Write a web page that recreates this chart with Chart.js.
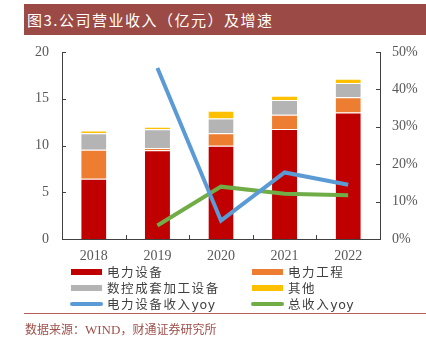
<!DOCTYPE html>
<html><head><meta charset="utf-8">
<script src="https://cdn.jsdelivr.net/npm/chart.js@4.4.0/dist/chart.umd.min.js"></script>
<style>
html,body{margin:0;padding:0;background:#fff;}
#wrap{position:relative;width:426px;height:343px;overflow:hidden;}
#title{position:absolute;left:24px;top:4px;width:402px;height:31px;background:#9B4A45;color:#fff;
 font-family:"Noto Sans CJK SC",sans-serif;font-size:15px;letter-spacing:1.5px;line-height:31px;padding-left:3px;box-sizing:border-box;}
#c{position:absolute;left:0;top:0;}
.leg{position:absolute;font-family:"Noto Sans CJK SC",sans-serif;font-size:12.5px;letter-spacing:1.6px;color:#404040;height:16px;line-height:16px;white-space:nowrap;}
.leg i{position:absolute;left:0;display:block;}
.leg span{position:absolute;left:36px;top:0;}
.yoy{font-family:"DejaVu Sans",sans-serif;letter-spacing:0.5px;}
#rule{position:absolute;left:24px;top:313px;width:402px;height:1px;background:#B5615A;}
#src{position:absolute;left:25px;top:321px;font-family:"Noto Sans CJK SC",serif;font-size:12px;color:#A0504A;line-height:16px;}
#src b{font-family:"Liberation Serif",serif;font-weight:normal;font-size:13px;}
</style></head>
<body><div id="wrap">
<div id="title">图3.公司营业收入（亿元）及增速</div>
<canvas id="c" width="426" height="343"></canvas>
<div id="legend"></div>
<div id="rule"></div>
<div id="src">数据来源：<b>WIND</b>，财通证券研究所</div>
</div>
<script>
const categories = ['2018','2019','2020','2021','2022'];
const powerEquip = [6.45, 9.48, 9.98, 11.76, 13.54];
const powerEng = [3.10, 0.25, 1.32, 1.54, 1.61];
const cncEquip = [1.75, 2.00, 1.60, 1.57, 1.54];
const others = [0.30, 0.28, 0.82, 0.46, 0.46];
const powerEquipYoy = [null, 45.7, 4.9, 17.8, 14.5];
const totalYoy = [null, 3.6, 14.0, 12.1, 11.7];
const leftTicks = [0, 5, 10, 15, 20];
const rightTicks = [0, 10, 20, 30, 40, 50];

const names = ['电力设备','电力工程','数控成套加工设备','其他','电力设备收入yoy','总收入yoy'];
const colors = ['#C00000','#ED7D31','#B4B4B4','#FFC000','#5B9BD5','#70AD47'];

const barDs = [powerEquip, powerEng, cncEquip, others].map((d,i)=>({
  type:'bar', label:names[i], data:d, backgroundColor:colors[i], borderColor:'rgba(255,255,255,0.6)',
  borderWidth:{top:1,bottom:0,left:0,right:0}, borderSkipped:false, stack:'s', yAxisID:'y',
  barPercentage:0.395, categoryPercentage:1, order:2
}));
const lineDs = [powerEquipYoy, totalYoy].map((d,i)=>({
  type:'line', label:names[4+i], data:d, borderColor:colors[4+i], backgroundColor:colors[4+i],
  borderWidth:4, pointRadius:0, tension:0, yAxisID:'y1', spanGaps:false, order:1, borderCapStyle:'butt'
}));

const inwardTicks = {
  id:'inwardTicks',
  afterDraw(chart){
    const {ctx, scales:{x,y,y1}, chartArea:a} = chart;
    ctx.save();
    ctx.strokeStyle='#404040'; ctx.lineWidth=1;
    ctx.beginPath();
    leftTicks.forEach(v=>{const p=Math.round(y.getPixelForValue(v))+0.5; if(v>0){ctx.moveTo(a.left,p);ctx.lineTo(a.left+4,p);}});
    rightTicks.forEach(v=>{const p=Math.round(y1.getPixelForValue(v))+0.5; if(v>0){ctx.moveTo(a.right,p);ctx.lineTo(a.right-4,p);}});
    for(let i=0;i<categories.length-1;i++){
      const p=Math.round((x.getPixelForValue(i)+x.getPixelForValue(i+1))/2)+0.5;
      ctx.moveTo(p,a.bottom);ctx.lineTo(p,a.bottom-4);
    }
    ctx.stroke();
    ctx.restore();
  }
};

const tickFont = {family:'"Liberation Serif", serif', size:14};
new Chart(document.getElementById('c'), {
  data:{labels:categories, datasets:[...barDs, ...lineDs]},
  options:{
    responsive:false, animation:false, devicePixelRatio:1,
    layout:{padding:{top:52, left:0, right:0, bottom:82}},
    plugins:{legend:{display:false}, tooltip:{enabled:false}},
    scales:{
      x:{stacked:true, grid:{display:true, drawOnChartArea:false, drawTicks:false},
         border:{color:'#404040', width:1},
         ticks:{font:tickFont, color:'#595959', padding:9},
         afterFit(s){s.height=22;}},
      y:{stacked:true, position:'left', min:0, max:20,
         afterBuildTicks(s){s.ticks=leftTicks.map(v=>({value:v}));},
         grid:{display:false, drawTicks:false}, border:{color:'#404040', width:1},
         ticks:{font:tickFont, color:'#595959', padding:13},
         afterFit(s){s.width=62;}},
      y1:{position:'right', min:0, max:50,
         afterBuildTicks(s){s.ticks=rightTicks.map(v=>({value:v}));},
         grid:{display:false, drawTicks:false}, border:{color:'#404040', width:1},
         ticks:{font:tickFont, color:'#595959', padding:12, callback:v=>v+'%'},
         afterFit(s){s.width=46;}}
    }
  },
  plugins:[inwardTicks]
});

// HTML legend built from dataset names/colors
const legend = document.getElementById('legend');
const colX = [71, 252], rowY = [263.5, 279.5, 295.5];
names.forEach((n,i)=>{
  const d=document.createElement('div'); d.className='leg';
  d.style.left=colX[i%2]+'px'; d.style.top=rowY[Math.floor(i/2)]+'px';
  const sw=document.createElement('i');
  if(i<4){sw.style.cssText='top:5px;width:31px;height:6px;background:'+colors[i];}
  else{sw.style.cssText='top:6px;left:-1px;width:33px;height:4px;border-radius:2px;background:'+colors[i];}
  const t=document.createElement('span');
  if(n.endsWith('yoy')){t.innerHTML=n.slice(0,-3)+'<span class="yoy" style="position:static">yoy</span>';}
  else t.textContent=n;
  d.appendChild(sw); d.appendChild(t); legend.appendChild(d);
});
</script>
</body></html>
